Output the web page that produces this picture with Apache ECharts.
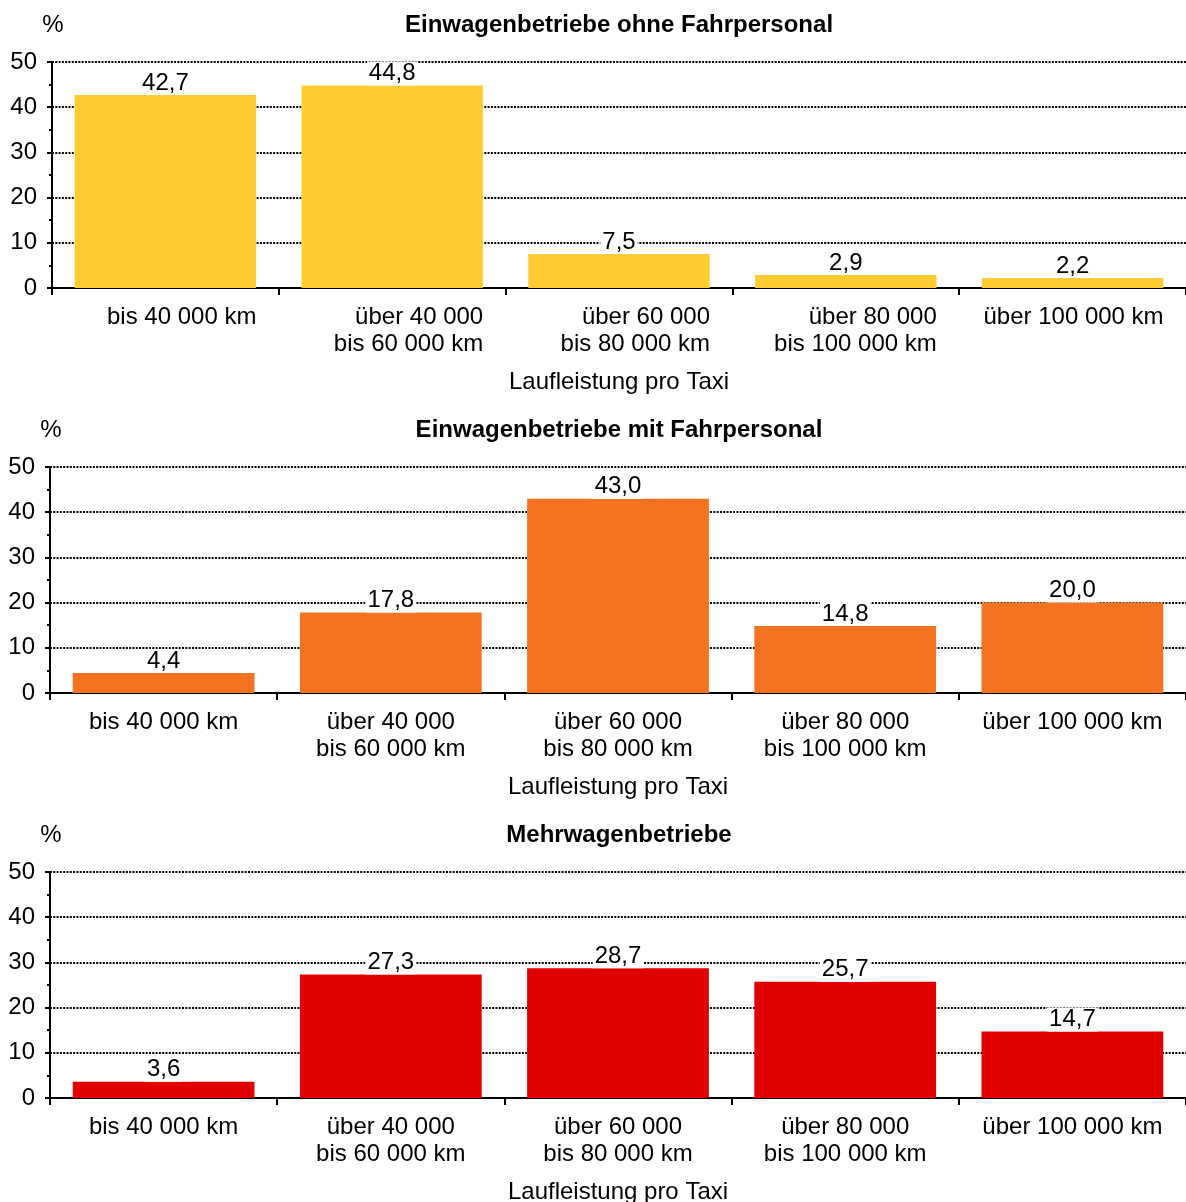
<!DOCTYPE html>
<html><head><meta charset="utf-8">
<script src="https://cdn.jsdelivr.net/npm/echarts@6/dist/echarts.min.js"></script>
<style>html,body{margin:0;padding:0;background:#fff}#c{width:1186px;height:1202px}</style>
</head><body><div id="c"></div>
<script>
const categories = ['bis 40 000 km','über 40 000\nbis 60 000 km','über 60 000\nbis 80 000 km','über 80 000\nbis 100 000 km','über 100 000 km'];
const titles = ['Einwagenbetriebe ohne Fahrpersonal','Einwagenbetriebe mit Fahrpersonal','Mehrwagenbetriebe'];
const ohneFahrpersonal = [42.7, 44.8, 7.5, 2.9, 2.2];
const mitFahrpersonal = [4.4, 17.8, 43.0, 14.8, 20.0];
const mehrwagen = [3.6, 27.3, 28.7, 25.7, 14.7];
const yTicks = [0, 10, 20, 30, 40, 50];
const xName = 'Laufleistung pro Taxi';

const seriesData = [ohneFahrpersonal, mitFahrpersonal, mehrwagen];
const colors = ['#FFCC33', '#F47320', '#E00000'];
const gridTops = [62, 467, 872];
const gridLefts = [52, 50, 50];
const plotH = 226;
const font = 'Liberation Sans, Arial, sans-serif';
const FS = 24;

const chart = echarts.init(document.getElementById('c'));
const fmt = v => v.toFixed(1).replace('.', ',');

const option = {
  animation: false,
  backgroundColor: '#fff',
  textStyle: {fontFamily: font},
  title: titles.map((t, i) => ({
    text: t, left: 614, top: gridTops[i] - 54, textAlign: 'center',
    textStyle: {fontFamily: font, fontSize: 24, fontWeight: 'bold', color: '#000'}
  })),
  grid: gridTops.map((t, i) => ({left: gridLefts[i], right: 0, top: t, height: plotH, outerBoundsMode: 'none', containLabel: false})),
  xAxis: gridTops.map((t, i) => ({
    type: 'category', gridIndex: i, data: categories,
    name: xName, nameLocation: 'middle', nameGap: 82,
    nameTextStyle: {fontFamily: font, fontSize: FS, color: '#000'},
    axisLine: {lineStyle: {color: '#000', width: 2}},
    axisTick: {show: true, length: 7, lineStyle: {color: '#000', width: 2}},
    axisLabel: i === 0 ? {
      interval: 0, margin: 16, lineHeight: 27, color: '#000', fontSize: FS, fontFamily: font,
      formatter: v => v.split('\n').map(s => '{a|' + s + '}').join('\n'),
      rich: {a: {width: 182, align: 'right', fontSize: FS, lineHeight: 27, fontFamily: font, color: '#000'}}
    } : {interval: 0, margin: 16, lineHeight: 27, color: '#000', fontSize: FS, fontFamily: font},
    splitLine: {show: false}
  })),
  yAxis: gridTops.map((t, i) => ({
    type: 'value', gridIndex: i, min: yTicks[0], max: yTicks[yTicks.length - 1], interval: 10,
    name: '%', nameLocation: 'end', nameGap: 25,
    nameTextStyle: {fontFamily: font, fontSize: FS, color: '#000', align: 'center', padding: [0, 0, 0, 2]},
    axisLine: {show: true, lineStyle: {color: '#000', width: 2}},
    axisTick: {show: true, length: 5, lineStyle: {color: '#000', width: 2}},
    minorTick: {show: true, splitNumber: 2, length: 3, lineStyle: {color: '#000', width: 2}},
    axisLabel: {color: '#000', fontSize: FS, fontFamily: font, margin: 15},
    splitLine: {show: true, lineStyle: {color: '#000', type: [2, 1.3], width: 2}}
  })),
  series: seriesData.map((d, i) => ({
    type: 'bar', xAxisIndex: i, yAxisIndex: i, data: d,
    barCategoryGap: '20%',
    itemStyle: {color: colors[i]},
    label: {
      show: true, position: 'top', distance: 0, formatter: p => fmt(p.value),
      color: '#000', fontSize: FS, fontFamily: font, backgroundColor: '#fff', padding: [0, 2, 0, 2]
    }
  }))
};
chart.setOption(option);
</script></body></html>
